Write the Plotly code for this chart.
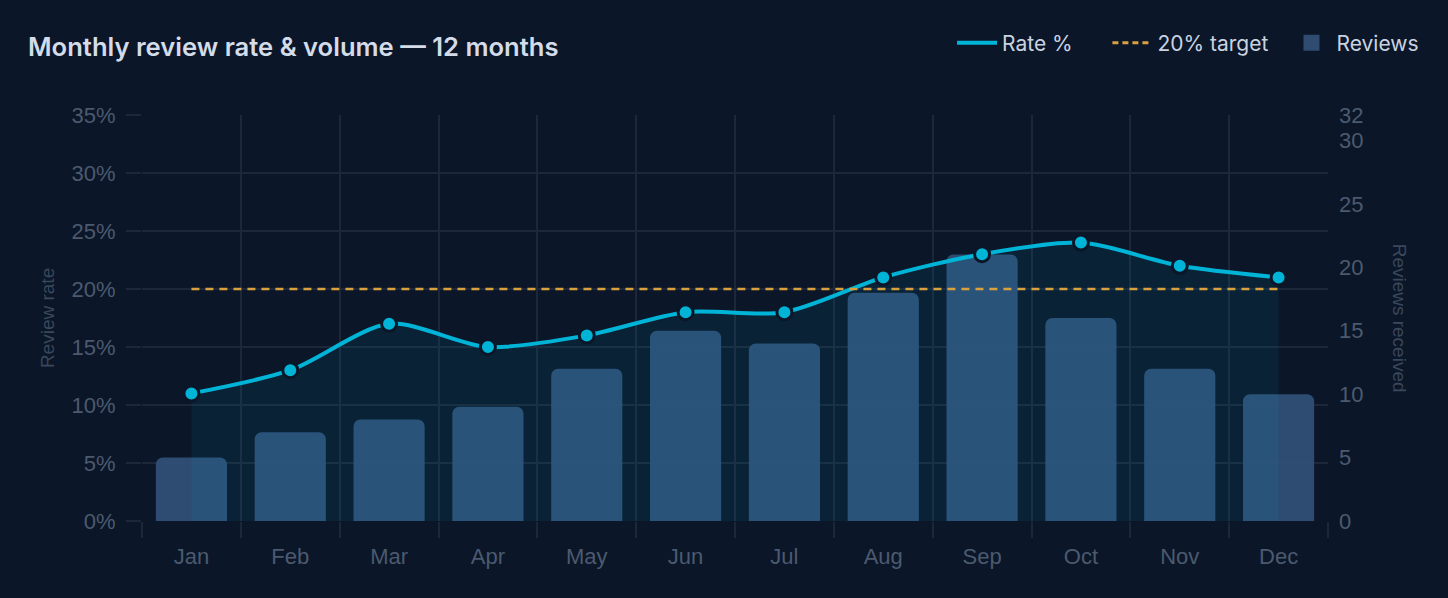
import plotly.graph_objects as go

months = ["Jan", "Feb", "Mar", "Apr", "May", "Jun", "Jul", "Aug", "Sep", "Oct", "Nov", "Dec"]
reviews = [5, 7, 8, 9, 12, 15, 14, 18, 21, 16, 12, 10]
rate_pct = [11, 13, 17, 15, 16, 18, 18, 21, 23, 24, 22, 21]
target_pct = [20, 20, 20, 20, 20, 20, 20, 20, 20, 20, 20, 20]

rate_ticks = [0, 5, 10, 15, 20, 25, 30, 35]
rate_labels = ["0%", "5%", "10%", "15%", "20%", "25%", "30%", "35%"]
review_ticks = [0, 5, 10, 15, 20, 25, 30, 32]

BG = "#0b1628"
GRID = "#1c2739"
TICK = "#4b5a6f"
CYAN = "#00b4d8"
GOLD = "#d9a03f"
BAR = "rgba(50,80,120,0.93)"

fig = go.Figure()

# bars on the right axis (y), rate drawn over them on y2
fig.add_trace(go.Bar(
    x=months, y=reviews, name="Reviews", yaxis="y",
    marker=dict(color=BAR, cornerradius=7, line=dict(width=0)),
    width=0.72, showlegend=False,
))
fig.add_trace(go.Scatter(
    x=months, y=rate_pct, name="Rate %", yaxis="y2",
    mode="lines+markers",
    line=dict(color=CYAN, width=4, shape="spline", smoothing=0.8),
    marker=dict(size=15, color=CYAN, line=dict(color=BG, width=3)),
    fill="tozeroy", fillcolor="rgba(0,180,216,0.08)",
    showlegend=False,
))
fig.add_trace(go.Scatter(
    x=months, y=target_pct, name="20% target", yaxis="y2",
    mode="lines",
    line=dict(color=GOLD, width=2.5, dash="8px,6px"),
    showlegend=False,
))

# legend-only entries, one legend each so they can be spaced like the original
fig.add_trace(go.Scatter(x=[None], y=[None], name="Rate %", mode="lines",
                         line=dict(color=CYAN, width=4), yaxis="y2", legend="legend"))
fig.add_trace(go.Scatter(x=[None], y=[None], name="20% target", mode="lines",
                         line=dict(color=GOLD, width=3, dash="6px,4px"), yaxis="y2", legend="legend2"))
fig.add_trace(go.Scatter(x=[None], y=[None], name="Reviews", mode="markers",
                         marker=dict(symbol="square", size=18, color="#2f4b70"),
                         yaxis="y2", legend="legend3"))

leg = dict(
    orientation="h", xanchor="left", y=1.177, yanchor="middle",
    font=dict(family="Inter, sans-serif", size=21, color="#c9d3e0"),
    bgcolor="rgba(0,0,0,0)", itemwidth=40,
)

fig.update_layout(
    width=1448, height=598,
    paper_bgcolor=BG, plot_bgcolor=BG,
    margin=dict(l=142, r=120, t=115, b=77),
    font=dict(family="Liberation Sans, Arial, sans-serif", color=TICK, size=22),
    title=dict(
        text="Monthly review rate & volume — 12 months",
        x=28 / 1448, xanchor="left", xref="container",
        y=1 - 47 / 598, yanchor="middle", yref="container",
        font=dict(family="Inter, sans-serif", size=25.6, color="#d3dce8", weight=600),
    ),
    showlegend=True,
    legend=dict(leg, x=0.683),
    legend2=dict(leg, x=0.814),
    legend3=dict(leg, x=0.965),
    xaxis=dict(
        type="category", tickson="boundaries", range=[-0.5, 11.5],
        showgrid=True, gridcolor=GRID, gridwidth=1.5,
        ticks="outside", ticklen=16, tickcolor=GRID, tickwidth=1.5,
        showline=False, zeroline=False, ticklabelstandoff=20,
        tickfont=dict(size=22, color=TICK),
    ),
    yaxis=dict(
        side="right", range=[0, 32], tickvals=review_ticks,
        showgrid=False, zeroline=False, showline=False,
        tickfont=dict(size=22, color=TICK), ticks="", ticklabelstandoff=10,
    ),
    yaxis2=dict(
        side="left", overlaying="y", range=[0, 35],
        tickvals=rate_ticks, ticktext=rate_labels,
        showgrid=True, gridcolor=GRID, gridwidth=1.5,
        ticks="outside", ticklen=15, tickcolor=GRID, tickwidth=1.5,
        zeroline=False, showline=False, ticklabelstandoff=6,
        tickfont=dict(size=22, color=TICK),
    ),
    annotations=[
        dict(text="Review rate", xref="paper", yref="paper", x=-0.08, y=0.5,
             textangle=-90, showarrow=False, xanchor="center", yanchor="middle",
             font=dict(size=19, color="#3a485c")),
        dict(text="Reviews received", xref="paper", yref="paper", x=1.061, y=0.5,
             textangle=90, showarrow=False, xanchor="center", yanchor="middle",
             font=dict(size=19, color="#3a485c")),
    ],
)

fig.write_html(
    "out.html",
    config={"displayModeBar": False},
    post_script="document.body.style.margin='0';document.body.style.background='#0b1628';",
)
